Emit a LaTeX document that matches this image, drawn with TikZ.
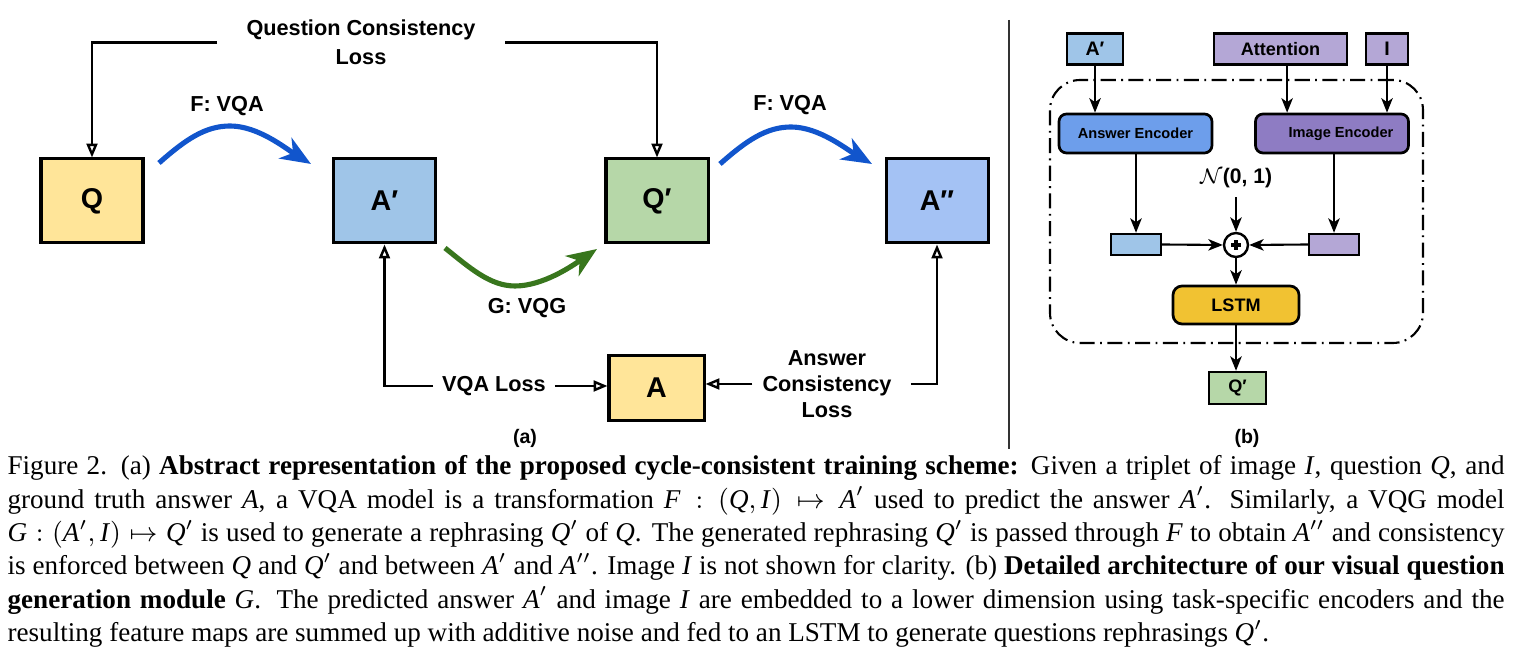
\documentclass[tikz,border=0pt]{standalone}
\usepackage{fontspec}
\setmainfont{Liberation Serif}
\newfontfamily\arialf{Liberation Sans}
\usetikzlibrary{arrows.meta}
\definecolor{qyel}{HTML}{FFE599}
\definecolor{apblue}{HTML}{9FC5E8}
\definecolor{qpgreen}{HTML}{B6D7A8}
\definecolor{appblue}{HTML}{A4C2F4}
\definecolor{fblue}{HTML}{1155CC}
\definecolor{ggreen}{HTML}{38761D}
\definecolor{aencc}{HTML}{6D9EEB}
\definecolor{iencc}{HTML}{8E7CC3}
\definecolor{lpurp}{HTML}{B4A7D6}
\definecolor{lstmc}{HTML}{F1C232}
\newcommand\vv[1]{\mbox{\textit{#1}}}
\newcommand\noiselbl{\ensuremath{\mathcal{N}}(0, 1)}
\newlength\capw
\setlength\capw{497pt}
\begin{document}
\begin{tikzpicture}[x=0.332pt,y=-0.332pt,
  bigbox/.style={draw=black, line width=1pt, inner sep=0pt,
    minimum width=102*0.332pt, minimum height=84*0.332pt,
    font=\arialf\bfseries\fontsize{9.5}{11}\selectfont},
  lbl/.style={font=\arialf\bfseries\fontsize{7.2}{9.6}\selectfont, align=center, inner sep=0pt},
  oarrow/.style={draw, line width=0.8pt, -{Triangle[open,length=4.6pt,width=3.6pt]}},
  fwd/.style={line width=1.7pt, -{Stealth[length=10pt,width=8pt,inset=3pt]}},
  sbox/.style={draw=black, line width=0.8pt, inner sep=0pt,
    font=\arialf\bfseries\fontsize{6.5}{7.5}\selectfont},
  encbox/.style={draw=black, line width=0.9pt, rounded corners=2.5pt, inner sep=0pt,
    minimum width=153*0.332pt, minimum height=39*0.332pt,
    font=\arialf\bfseries\fontsize{4.85}{6}\selectfont},
  barr/.style={draw, line width=0.7pt, -{Stealth[length=4.8pt,width=3.8pt,inset=1.3pt]}},
  sublbl/.style={font=\arialf\bfseries\fontsize{6.5}{7.5}\selectfont, inner sep=0pt},
  noisestyle/.style={font=\arialf\bfseries\fontsize{7}{8}\selectfont, inner sep=0pt}
]
\useasboundingbox (0,0) rectangle (1523,663);

% ---------------- (a) ----------------
\node[bigbox, fill=qyel] (Q) at (92,201) {Q};
\node[bigbox, fill=apblue] (Ap) at (384.5,201) {A′};
\node[bigbox, fill=qpgreen] (Qp) at (657,201) {Q′};
\node[bigbox, fill=appblue] (App) at (937,201) {A″};
\node[bigbox, fill=qyel, minimum width=95*0.332pt, minimum height=65*0.332pt] (A) at (656.5,388) {A};

\node[lbl, inner xsep=9.6pt] (qcl) at (361,42.5) {Question Consistency\\Loss};
\draw[oarrow] (qcl.west) -| (Q.north);
\draw[oarrow] (qcl.east) -| (Qp.north);

\node[lbl] (f1) at (227,106) {F: VQA};
\node[lbl] (f2) at (790,105) {F: VQA};
\node[lbl] (g1) at (527,308) {G: VQG};

\coordinate (f1s) at (159,163);
\coordinate (f1e) at (311,164);
\draw[fblue, fwd] (f1s) .. controls (185,140) and (205,126) .. (230,126)
  .. controls (258,126) and (285,148) .. (f1e);
\coordinate (f2s) at (720,164);
\coordinate (f2e) at (872,164);
\draw[fblue, fwd] (f2s) .. controls (746,141) and (766,127) .. (791,127)
  .. controls (819,127) and (846,149) .. (f2e);
\coordinate (g1s) at (445,248);
\coordinate (g1e) at (597,249);
\draw[ggreen, fwd] (g1s) .. controls (470,268) and (490,286) .. (515,286)
  .. controls (543,286) and (572,266) .. (g1e);

\node[lbl, inner xsep=2.8pt] (vqal) at (494,386) {VQA Loss};
\draw[oarrow] (vqal.west) -| (Ap.south);
\draw[oarrow] (vqal.east) -- (vqal.east -| A.west);

\node[lbl, inner xsep=3.2pt, font=\arialf\bfseries\fontsize{7.2}{8.7}\selectfont] (acl) at (827,384) {Answer\\Consistency\\Loss};
\draw[oarrow] (acl.west) -- (acl.west -| A.east);
\draw[oarrow] ([xshift=3pt]acl.east) -| (App.south);

\node[sublbl] (capa) at (525,438) {(a)};

% separator
\coordinate (sept) at (1009,20);
\coordinate (sepb) at (1009,449);
\draw[line width=0.8pt, black!80] (sept) -- (sepb);

% ---------------- (b) ----------------
\node[draw, line width=0.7pt, dash pattern=on 5pt off 1.8pt on 0.6pt off 1.8pt,
  rounded corners=10pt, minimum width=373*0.332pt, minimum height=263*0.332pt,
  inner sep=0pt] (gbox) at (1236.5,211.5) {};

\node[sbox, fill=apblue, minimum width=56*0.332pt, minimum height=31*0.332pt] (bA) at (1095,49) {A′};
\node[sbox, fill=lpurp, minimum width=133*0.332pt, minimum height=31*0.332pt,
  font=\arialf\bfseries\fontsize{6}{7}\selectfont] (bAtt) at (1280.5,49) {Attention};
\node[sbox, fill=lpurp, minimum width=42*0.332pt, minimum height=31*0.332pt] (bI) at (1387,49) {I};

\node[encbox, fill=aencc] (aenc) at (1135.5,133.5) {Answer Encoder};
\node[encbox, fill=iencc] (ienc) at (1332,133.5) {\hspace*{6pt}Image Encoder};

\draw[barr] (bA.south) -- (bA.south |- aenc.north);
\draw[barr] ([xshift=2.2pt]bAtt.south) -- ([xshift=2.2pt]bAtt.south |- ienc.north);
\draw[barr] (bI.south) -- (bI.south |- ienc.north);

\node[noisestyle] (noise) at (1236,178) {\noiselbl};

\node[sbox, fill=apblue, minimum width=50*0.332pt, minimum height=21*0.332pt] (sa) at (1136,244.5) {};
\node[sbox, fill=lpurp, minimum width=50*0.332pt, minimum height=21*0.332pt] (si) at (1334,244.5) {};

\node[circle, draw, line width=0.8pt, fill=white, minimum size=24*0.332pt, inner sep=0pt] (plus) at (1236,245) {};
\draw[line width=1.2pt] ([xshift=-1.5pt]plus.center) -- ([xshift=1.5pt]plus.center);
\draw[line width=1.2pt] ([yshift=-1.5pt]plus.center) -- ([yshift=1.5pt]plus.center);

\draw[barr] (aenc.south -| sa.north) -- (sa.north);
\draw[barr] (ienc.south -| si.north) -- (si.north);
\draw[barr] ([yshift=-3pt]noise.south) -- (plus.north);
\draw[barr] (sa.east) -- (plus.west);
\draw[barr] (si.west) -- (plus.east);

\node[encbox, fill=lstmc, minimum width=126*0.332pt, minimum height=38*0.332pt,
  rounded corners=3pt, font=\arialf\bfseries\fontsize{6}{7}\selectfont] (lstm) at (1236,305) {LSTM};
\draw[barr] (plus.south) -- (plus.south |- lstm.north);

\node[sbox, fill=qpgreen, minimum width=57*0.332pt, minimum height=32*0.332pt,
  font=\arialf\bfseries\fontsize{6}{7}\selectfont] (bQ) at (1237.5,388) {Q′};
\draw[barr] (lstm.south) -- (lstm.south |- bQ.north);

\node[sublbl] (capb) at (1247,438) {(b)};

% ---------------- caption ----------------
\node[anchor=north west, inner sep=0pt] (cap) at (7,455) {\vbox{\fontsize{9}{11.1}\selectfont
\hbox to\capw{Figure 2. (a) \textbf{Abstract representation of the proposed cycle-consistent training scheme:} Given a triplet of image $\vv{I}$, question $\vv{Q}$, and}
\hbox to\capw{ground truth answer $\vv{A}$, a VQA model is a transformation $\vv{F} : (\vv{Q}, \vv{I}) \mapsto \vv{A}'$ used to predict the answer $\vv{A}'$. Similarly, a VQG model}
\hbox to\capw{$\vv{G} : (\vv{A}', \vv{I}) \mapsto \vv{Q}'$ is used to generate a rephrasing $\vv{Q}'$ of $\vv{Q}$. The generated rephrasing $\vv{Q}'$ is passed through $\vv{F}$ to obtain $\vv{A}''$ and consistency}
\hbox to\capw{is enforced between $\vv{Q}$ and $\vv{Q}'$ and between $\vv{A}'$ and $\vv{A}''$. Image $\vv{I}$ is not shown for clarity. (b) \textbf{Detailed architecture of our visual question}}
\hbox to\capw{\textbf{generation module} $\vv{G}$. The predicted answer $\vv{A}'$ and image $\vv{I}$ are embedded to a lower dimension using task-specific encoders and the}
\hbox{resulting feature maps are summed up with additive noise and fed to an LSTM to generate questions rephrasings $\vv{Q}'$.}
}};
\end{tikzpicture}
\end{document}
